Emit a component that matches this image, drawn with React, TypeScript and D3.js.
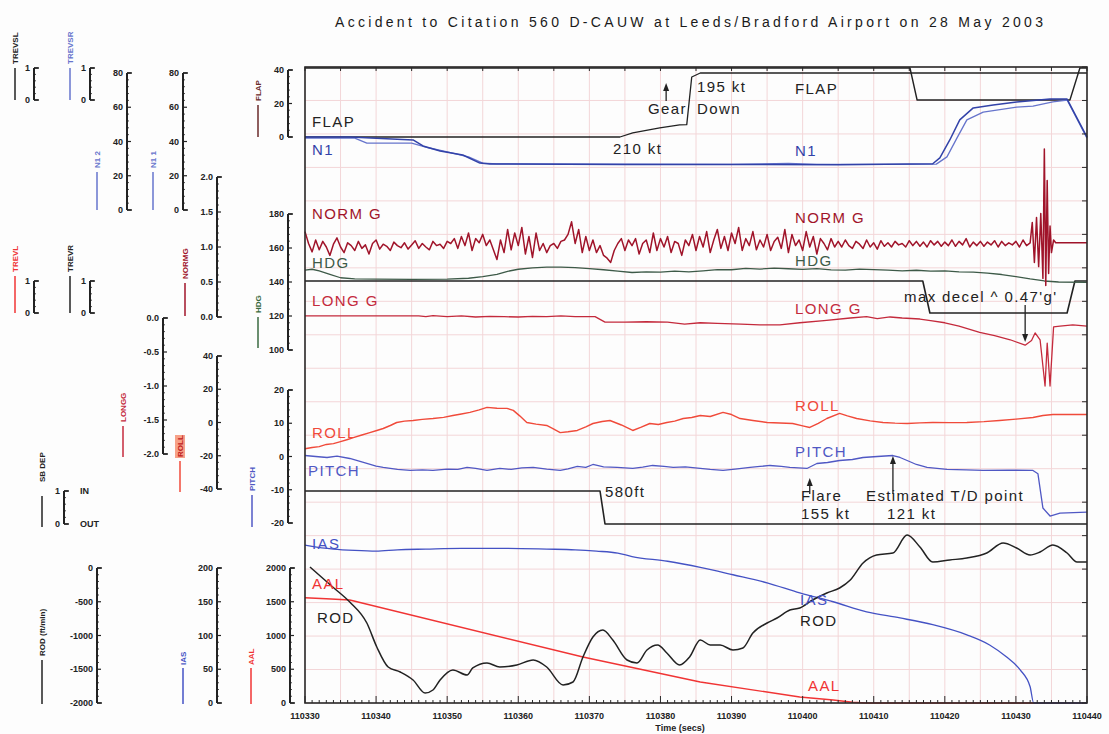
import React from "react";
import * as d3 from "d3";

type Pt = [number, number];

const title = "Accident to Citation 560 D-CAUW at Leeds/Bradford Airport on 28 May 2003";

// ---- tick labels ----
const timeTicks = [110330, 110340, 110350, 110360, 110370, 110380, 110390, 110400, 110410, 110420, 110430, 110440];
const trevTicks = [0, 1];
const n1Ticks = [0, 20, 40, 60, 80];
const flapTicks = [0, 20, 40];
const normGTicks = [0, 0.5, 1, 1.5, 2];
const hdgTicks = [100, 120, 140, 160, 180];
const longGTicks = [-2, -1.5, -1, -0.5, 0];
const rollTicks = [-40, -20, 0, 20, 40];
const pitchTicks = [-20, -10, 0, 10, 20];
const sbTicks = [0, 1];
const rodTicks = [-2000, -1500, -1000, -500, 0];
const iasTicks = [0, 50, 100, 150, 200];
const aalTicks = [0, 500, 1000, 1500, 2000];

// ---- series (time secs, value) ----
const trevsl: Pt[] = [[110330, 1], [110415.1, 1], [110416.1, 0], [110437.6, 0], [110439, 1], [110440, 1]];
const trevr: Pt[] = [[110330, 1], [110416.9, 1], [110417.9, 0], [110437.2, 0], [110438.3, 1], [110440, 1]];
const sbDep: Pt[] = [[110330, 1], [110371.5, 1], [110372.2, 0], [110440, 0]];

const flap: Pt[] = [
  [110330, 0], [110374.3, 0], [110376.1, 2.4], [110379.9, 5.4], [110382.7, 7.2], [110383.7, 7.4],
  [110384.4, 35.8], [110385.6, 38.2], [110440, 38.2],
];

const n1a: Pt[] = [
  [110330, 42.6], [110336.3, 42.6], [110345.2, 40.9], [110346.6, 37.4], [110349, 34.5], [110352.2, 32.1],
  [110354.6, 27.4], [110356, 26.9], [110375, 26.5], [110390, 26.6], [110405, 26.4], [110418.3, 27.0],
  [110419.3, 30.4], [110420.7, 40.9], [110422.1, 52.6], [110424, 59.6], [110426.8, 61.3], [110430.1, 63.1],
  [110434.8, 64.8], [110437.2, 64.8], [110440, 42.6],
];
const n1b: Pt[] = [
  [110330, 42.0], [110337, 42.0], [110338.7, 39.1], [110345, 39.1], [110347.5, 36.2], [110350, 33.9],
  [110353, 31.0], [110355, 27.4], [110357, 26.9], [110390, 26.6], [110398, 27.2], [110402, 26.6],
  [110418.8, 26.8], [110420.3, 31.0], [110421.7, 42.0], [110423.1, 52.6], [110425.4, 57.2], [110430.1, 60.1],
  [110432.4, 60.6], [110435.2, 63.1], [110437.2, 64.2], [110440, 42.0],
];

const normGStart = 110330;
const normGStep = 0.5;
const normG = [
  1.22, 1.05, 0.93, 1.10, 0.96, 1.08, 1.00, 0.88, 1.04, 1.13, // 110330
  1.00, 0.92, 1.06, 1.02, 0.95, 1.08, 0.98, 1.03, 0.90, 1.05, // 110335
  1.10, 0.97, 1.04, 1.01, 0.95, 1.07, 1.02, 0.99, 1.06, 0.97, // 110340
  1.03, 1.09, 0.98, 1.05, 1.00, 0.96, 1.08, 1.02, 1.04, 0.98, // 110345
  1.08, 1.05, 1.12, 0.98, 1.15, 1.02, 1.20, 0.95, 1.12, 1.06, // 110350
  1.18, 1.02, 1.10, 0.96, 0.82, 1.10, 0.92, 1.25, 0.96, 1.20, // 110355
  1.02, 1.28, 0.90, 1.15, 0.85, 1.20, 0.95, 1.05, 0.92, 1.02, // 110360
  1.05, 0.98, 1.08, 1.10, 1.18, 1.36, 1.05, 1.25, 0.92, 1.15, // 110365
  0.95, 1.10, 0.92, 1.02, 0.88, 0.84, 0.78, 0.95, 1.05, 1.12, // 110370
  0.95, 1.10, 1.02, 1.12, 0.90, 1.05, 1.10, 0.92, 1.20, 0.95, // 110375
  1.12, 1.00, 1.15, 0.92, 1.08, 1.05, 0.88, 1.10, 1.02, 1.18, // 110380
  0.95, 1.15, 1.00, 1.22, 0.92, 1.10, 1.25, 0.98, 1.15, 0.95, // 110385
  1.20, 1.05, 1.28, 0.95, 1.12, 1.02, 1.22, 0.96, 1.10, 1.00, // 110390
  1.18, 0.95, 1.08, 1.14, 0.98, 1.25, 0.92, 1.18, 1.02, 1.10, // 110395
  0.95, 1.22, 1.00, 1.15, 0.90, 1.12, 1.05, 0.96, 1.12, 1.00, // 110400
  1.08, 1.00, 1.10, 1.02, 0.98, 1.08, 1.04, 0.98, 1.10, 1.00, // 110405
  1.06, 0.97, 1.09, 1.01, 1.06, 1.00, 1.08, 1.03, 1.05, 1.00, // 110410
  1.09, 1.02, 1.08, 1.01, 1.07, 1.00, 1.09, 1.03, 1.08, 1.01, // 110415
  1.07, 1.02, 1.10, 1.01, 1.08, 1.03, 1.12, 1.00, 1.07, 1.02, // 110420
  1.08, 1.01, 1.07, 1.03, 1.09, 1.00, 1.08, 1.02, 1.06, 1.03, // 110425
  1.08, 1.00, 1.10, 1.02, // 110430
];
const normGTail: Pt[] = [
  [110432, 1.06], [110432.3, 1.35], [110432.6, 0.78], [110432.9, 1.42], [110433.2, 0.72], [110433.5, 1.48],
  [110433.8, 0.55], [110434.0, 2.4], [110434.2, 0.45], [110434.4, 1.95], [110434.6, 0.62], [110434.8, 1.3],
  [110435.0, 0.92], [110435.3, 1.1], [110435.6, 1.06], [110440, 1.06],
];

const hdg: Pt[] = [
  [110330, 147], [110331, 147.5], [110332, 146.5], [110333.5, 144.5], [110335, 142.5], [110337, 141.8],
  [110340, 141.7], [110345, 141.6], [110350, 141.7], [110353, 142.2], [110355, 143.2], [110357, 144.5],
  [110358.5, 146.3], [110360, 147.5], [110362, 148.3], [110364, 148.7], [110366, 148.8], [110368, 148.5],
  [110370, 147.9], [110372, 147.2], [110374, 146.4], [110376, 145.6], [110378, 145.9], [110380, 145.8],
  [110382, 146.4], [110384, 146.0], [110386, 146.6], [110388, 147.3], [110390, 147.2], [110392, 148.0],
  [110394, 147.6], [110396, 148.2], [110398, 147.8], [110400, 147.4], [110402, 147.9], [110404, 147.1],
  [110406, 147.0], [110408, 147.6], [110410, 147.3], [110412, 147.0], [110414, 146.6], [110416, 146.9],
  [110418, 146.4], [110420, 146.5], [110422, 146.0], [110424, 145.8], [110426, 145.2], [110428, 144.4],
  [110430, 143.2], [110432, 141.8], [110434, 140.6], [110436, 140.0], [110440, 139.8],
];

const longG: Pt[] = [
  [110330, 0.03], [110335, 0.03], [110340, 0.03], [110346, 0.03], [110347, 0.02], [110348, 0.035],
  [110350, 0.02], [110352, 0.03], [110354, 0.015], [110356, 0.025], [110358, 0.02], [110360, 0.015],
  [110362, 0.025], [110364, 0.02], [110366, 0.03], [110368, 0.02], [110370.8, 0.02], [110372.2, -0.06],
  [110375, -0.06], [110378, -0.055], [110381, -0.06], [110383.4, -0.09], [110385.6, -0.07], [110388, -0.08],
  [110391.3, -0.09], [110394, -0.1], [110396.8, -0.1], [110399.6, -0.07], [110403, -0.04], [110406.7, 0.0],
  [110409, 0.02], [110410.5, -0.01], [110412.3, 0.015], [110414, 0.0], [110416.5, -0.015], [110418, -0.04],
  [110420, -0.07], [110422, -0.12], [110424.9, -0.21], [110427, -0.26], [110429.2, -0.32], [110431.3, -0.4],
  [110432.2, -0.33], [110432.7, -0.22], [110433.4, -0.32], [110434.1, -1.0], [110434.4, -0.37], [110434.8, -1.0],
  [110435.3, -0.13], [110436.2, -0.12], [110438, -0.1], [110440, -0.12],
];

const roll: Pt[] = [
  [110330, -15.8], [110331, -15], [110332, -14.5], [110333, -13.2], [110334, -12.7], [110335, -11.5],
  [110336, -10.2], [110336.8, -9.1], [110338, -7.5], [110339, -6.2], [110340.1, -4.8], [110341, -3.6],
  [110342, -1.8], [110342.9, 0], [110344, 0.8], [110345.2, 1.2], [110346.5, 1.9], [110348, 2.4],
  [110349.5, 3.1], [110350.8, 4.2], [110352, 5.1], [110353.2, 6.1], [110354.5, 7.6], [110355.6, 9.1],
  [110357, 8.6], [110358.4, 8.5], [110359.3, 7.3], [110360.2, 4.0], [110361.2, 0], [110362.5, -1.0],
  [110364, -1.8], [110365, -4.0], [110365.9, -6.1], [110367, -5.6], [110368.3, -4.8], [110369.5, -2.6],
  [110370.5, -0.6], [110371.8, 0.6], [110372.9, 1.2], [110374.5, -1.5], [110376.1, -4.8], [110377.3, -2.8],
  [110378.5, -0.6], [110379.7, -1.2], [110380.9, 0], [110382, 0.8], [110383.2, 2.4], [110384.4, 3.0],
  [110385.6, 4.2], [110387, 3.6], [110388.8, 6.1], [110390, 4.8], [110391.2, 2.4], [110393, 1.2],
  [110395, 0], [110396.8, -0.3], [110398.6, -0.6], [110400, -2.0], [110401, -3.0], [110402.2, -0.5],
  [110403.4, 2.4], [110405.2, 5.5], [110406.3, 4.0], [110407.6, 2.4], [110409.5, 1.0], [110411.3, 0],
  [110413, -0.4], [110414.7, -0.6], [110416.5, -0.2], [110418.3, 0], [110420.7, -0.1], [110423.1, 0],
  [110425.5, 0.5], [110427.7, 1.2], [110430, 2.0], [110432.4, 3.0], [110433.8, 4.2], [110435.2, 4.8],
  [110440, 4.8],
];

const pitch: Pt[] = [
  [110330, 0.3], [110331.5, 0.0], [110333.1, -0.3], [110334.5, 0.1], [110336.3, -0.6], [110337.5, -1.3],
  [110338.7, -2.1], [110340, -2.9], [110341, -3.3], [110343, -3.9], [110344.8, -4.2], [110346.5, -4.0],
  [110348, -4.2], [110350, -3.8], [110351.5, -3.9], [110352.8, -3.3], [110354, -3.6], [110355.6, -4.2],
  [110357.4, -3.6], [110359, -3.9], [110360.5, -3.4], [110362.1, -3.3], [110364, -3.8], [110365.9, -4.2],
  [110367, -3.7], [110368.3, -3.0], [110369.5, -3.3], [110370.5, -2.4], [110372, -3.1], [110373.9, -3.3],
  [110376.1, -3.6], [110377.5, -3.2], [110378.9, -2.7], [110380.5, -3.0], [110381.8, -3.3], [110383.5, -3.1],
  [110385.6, -3.6], [110387, -3.9], [110388.8, -4.2], [110390.5, -3.8], [110392.6, -3.3], [110394, -3.0],
  [110395.4, -2.7], [110397, -3.0], [110398.2, -3.3], [110400.6, -3.6], [110402, -2.1], [110403.5, -1.8],
  [110405.2, -1.2], [110407, -0.9], [110408.5, -0.3], [110410.5, 0.0], [110412.7, 0.3], [110413.7, -0.3],
  [110414.7, -1.2], [110416, -2.4], [110417.5, -3.3], [110420.3, -3.9], [110423, -4.0], [110425.4, -4.2],
  [110429, -4.1], [110432.4, -4.2], [110433.1, -5.2], [110433.8, -15.5], [110434.8, -17.9], [110436.2, -17],
  [110440, -16.7],
];

const ias: Pt[] = [
  [110330, 234], [110331, 232], [110334, 228], [110337, 226], [110340, 225], [110343, 227], [110347, 228],
  [110352, 229], [110358, 229], [110364, 228], [110368, 227], [110371, 225], [110374, 222], [110376, 217],
  [110381, 210], [110385.6, 201], [110390.2, 190], [110395, 178], [110399.6, 163], [110404.3, 150],
  [110409, 135], [110413.7, 126], [110418.3, 116], [110423.1, 101], [110426.3, 86], [110428.7, 68],
  [110430.6, 49], [110432, 24], [110432.5, 0], [110440, 0],
];

const aal: Pt[] = [
  [110330, 1560], [110333, 1545], [110336.3, 1526], [110369.1, 681], [110385.6, 311], [110399.6, 89],
  [110404.3, 44], [110407, 12], [110409, 0], [110440, 0],
];

const rod: Pt[] = [
  [110330.7, 15], [110333.9, -281], [110336.3, -504], [110338.7, -815], [110340.1, -1170], [110341.7, -1467],
  [110343.4, -1541], [110345.2, -1659], [110346.9, -1852], [110348, -1807], [110349, -1659], [110350.8, -1511],
  [110352.8, -1585], [110353.6, -1481], [110355.6, -1407], [110357.4, -1467], [110359.8, -1437], [110362.1, -1363],
  [110364, -1467], [110366.3, -1733], [110367.7, -1689], [110369.1, -1319], [110370.5, -1022], [110371.9, -919],
  [110373.3, -1067], [110375.3, -1363], [110376.7, -1407], [110378.1, -1215], [110379.6, -1141], [110380.9, -1259],
  [110382.7, -1437], [110384.1, -1319], [110385.6, -1067], [110387, -1141], [110388.4, -1141], [110390.2, -1215],
  [110391.6, -1185], [110393, -963], [110395, -815], [110396.4, -741], [110398.2, -622], [110399.6, -593],
  [110401.4, -474], [110403.4, -370], [110405.2, -296], [110406.7, -178], [110408.5, 74], [110410.4, 193],
  [110412.7, 222], [110414.7, 489], [110416.5, 311], [110418.3, 89], [110420.7, 119], [110423.1, 148],
  [110425.9, 222], [110428.2, 370], [110430.1, 296], [110432, 193], [110433.4, 237], [110435.2, 341],
  [110437.2, 222], [110438.6, 89], [110440, 89],
];

// ---- layout ----
const W = 1109;
const H = 734;
const plot = { left: 305, right: 1087, top: 67, bottom: 703 };
const gridRows = 19;

const C = {
  ink: "#222",
  grid: "#f3d6d8",
  n1: "#3242a8",
  n1b: "#6674cc",
  normG: "#a0142a",
  hdg: "#3d5a48",
  longG: "#c42a3c",
  roll: "#f04a3a",
  pitch: "#5058c4",
  ias: "#4452c4",
  aal: "#f03434",
};

const x = d3.scaleLinear().domain([110330, 110440]).range([plot.left, plot.right]);
const y = {
  trevs: d3.scaleLinear().domain([0, 1]).range([100, 68]),
  n1: d3.scaleLinear().domain([0, 80]).range([210, 73]),
  flap: d3.scaleLinear().domain([0, 40]).range([137, 70]),
  trev: d3.scaleLinear().domain([0, 1]).range([313, 281]),
  normG: d3.scaleLinear().domain([0, 2]).range([317, 177]),
  hdg: d3.scaleLinear().domain([100, 180]).range([350, 214]),
  longG: d3.scaleLinear().domain([-2, 0]).range([454, 318]),
  roll: d3.scaleLinear().domain([-40, 40]).range([489, 356]),
  pitch: d3.scaleLinear().domain([-20, 20]).range([523, 390]),
  sb: d3.scaleLinear().domain([0, 1]).range([524, 491]),
  rod: d3.scaleLinear().domain([-2000, 0]).range([703, 568]),
  ias: d3.scaleLinear().domain([0, 200]).range([703, 568]),
  aal: d3.scaleLinear().domain([0, 2000]).range([703, 568]),
};

const fmtInt = (v: number) => String(v);
const fmt1 = (v: number) => v.toFixed(1);

const axes = [
  { ax: 34, scale: y.trevs, ticks: trevTicks, fmt: fmtInt },
  { ax: 90, scale: y.trevs, ticks: trevTicks, fmt: fmtInt },
  { ax: 127, scale: y.n1, ticks: n1Ticks, fmt: fmtInt },
  { ax: 183, scale: y.n1, ticks: n1Ticks, fmt: fmtInt },
  { ax: 288, scale: y.flap, ticks: flapTicks, fmt: fmtInt },
  { ax: 34, scale: y.trev, ticks: trevTicks, fmt: fmtInt },
  { ax: 90, scale: y.trev, ticks: trevTicks, fmt: fmtInt },
  { ax: 217, scale: y.normG, ticks: normGTicks, fmt: fmt1 },
  { ax: 288, scale: y.hdg, ticks: hdgTicks, fmt: fmtInt },
  { ax: 163, scale: y.longG, ticks: longGTicks, fmt: fmt1 },
  { ax: 217, scale: y.roll, ticks: rollTicks, fmt: fmtInt },
  { ax: 288, scale: y.pitch, ticks: pitchTicks, fmt: fmtInt },
  { ax: 64, scale: y.sb, ticks: sbTicks, fmt: fmtInt },
  { ax: 97, scale: y.rod, ticks: rodTicks, fmt: fmtInt },
  { ax: 217, scale: y.ias, ticks: iasTicks, fmt: fmtInt },
  { ax: 290, scale: y.aal, ticks: aalTicks, fmt: fmtInt },
];

const legends = [
  { label: "TREVSL", color: C.ink, lx: 15, textBottom: 64, lineTop: 68, lineBottom: 100 },
  { label: "TREVSR", color: C.n1b, lx: 70, textBottom: 64, lineTop: 68, lineBottom: 100 },
  { label: "N1 2", color: C.n1b, lx: 97, textBottom: 168, lineTop: 172, lineBottom: 210 },
  { label: "N1 1", color: C.n1b, lx: 153, textBottom: 168, lineTop: 172, lineBottom: 210 },
  { label: "FLAP", color: "#6a2a2a", lx: 258, textBottom: 101, lineTop: 105, lineBottom: 137 },
  { label: "TREVL", color: C.aal, lx: 15, textBottom: 272, lineTop: 276, lineBottom: 313 },
  { label: "TREVR", color: C.ink, lx: 70, textBottom: 272, lineTop: 276, lineBottom: 313 },
  { label: "NORMG", color: C.normG, lx: 185, textBottom: 279, lineTop: 283, lineBottom: 316 },
  { label: "HDG", color: "#3a6a40", lx: 258, textBottom: 313, lineTop: 317, lineBottom: 348 },
  { label: "LONGG", color: C.longG, lx: 123, textBottom: 422, lineTop: 426, lineBottom: 457 },
  { label: "ROLL", color: C.roll, lx: 180, textBottom: 457, lineTop: 461, lineBottom: 492 },
  { label: "PITCH", color: C.pitch, lx: 252, textBottom: 491, lineTop: 495, lineBottom: 527 },
  { label: "SB DEP", color: C.ink, lx: 42, textBottom: 482, lineTop: 496, lineBottom: 527 },
  { label: "ROD (ft/min)", color: C.ink, lx: 42, textBottom: 656, lineTop: 660, lineBottom: 704 },
  { label: "IAS", color: C.ias, lx: 183, textBottom: 665, lineTop: 668, lineBottom: 704 },
  { label: "AAL", color: C.aal, lx: 251, textBottom: 665, lineTop: 668, lineBottom: 704 },
];

const labelFont = "'Liberation Sans', Arial, sans-serif";

const LeftAxis = ({ ax, scale, ticks, fmt }: any) => {
  const [b, t] = scale.range();
  const minors: number[] = [];
  for (let i = 0; i < ticks.length - 1; i++) {
    const a = scale(ticks[i]);
    const c = scale(ticks[i + 1]);
    for (let k = 1; k < 5; k++) minors.push(a + ((c - a) * k) / 5);
  }
  return (
    <g stroke={C.ink}>
      <line x1={ax} x2={ax} y1={b} y2={t} strokeWidth={2} />
      <line x1={ax} x2={ax + 5} y1={b} y2={b} strokeWidth={1.5} />
      <line x1={ax} x2={ax + 5} y1={t} y2={t} strokeWidth={1.5} />
      {ticks.map((v: number) => (
        <line key={v} x1={ax} x2={ax + 4} y1={scale(v)} y2={scale(v)} strokeWidth={1.2} />
      ))}
      {minors.map((m, i) => (
        <line key={i} x1={ax - 1} x2={ax + 2} y1={m} y2={m} strokeWidth={0.8} />
      ))}
      {ticks.map((v: number) => (
        <text
          key={"t" + v}
          x={ax - 4}
          y={scale(v)}
          dy="0.35em"
          textAnchor="end"
          fontSize={9}
          fontWeight="bold"
          fontFamily={labelFont}
          fill={C.ink}
          stroke="none"
        >
          {fmt(v)}
        </text>
      ))}
    </g>
  );
};

const Arrow = ({ ax, tail, tip }: { ax: number; tail: number; tip: number }) => {
  const dir = tip < tail ? 1 : -1;
  return (
    <g>
      <line x1={ax} x2={ax} y1={tail} y2={tip + dir * 6} stroke={C.ink} strokeWidth={1.3} />
      <path d={`M${ax},${tip} L${ax - 3},${tip + dir * 8} L${ax + 3},${tip + dir * 8} Z`} fill={C.ink} />
    </g>
  );
};

export default function App() {
  const mk = (sy: any, curve: any = d3.curveLinear) =>
    d3
      .line<Pt>()
      .x((d) => x(d[0]))
      .y((d) => sy(d[1]))
      .curve(curve);

  const normGPts: Pt[] = normG
    .map((v, i) => [normGStart + i * normGStep, v] as Pt)
    .concat(normGTail);

  const series = [
    { data: trevsl, sy: y.trevs, color: C.ink, w: 1.4 },
    { data: trevr, sy: y.trev, color: C.ink, w: 1.6 },
    { data: sbDep, sy: y.sb, color: C.ink, w: 1.6 },
    { data: flap, sy: y.flap, color: C.ink, w: 1.3 },
    { data: n1b, sy: y.n1, color: C.n1b, w: 1.3 },
    { data: n1a, sy: y.n1, color: C.n1, w: 1.5 },
    { data: hdg, sy: y.hdg, color: C.hdg, w: 1.3 },
    { data: normGPts, sy: y.normG, color: C.normG, w: 1.5 },
    { data: longG, sy: y.longG, color: C.longG, w: 1.3 },
    { data: roll, sy: y.roll, color: C.roll, w: 1.4 },
    { data: pitch, sy: y.pitch, color: C.pitch, w: 1.3 },
    { data: aal, sy: y.aal, color: C.aal, w: 1.4 },
    { data: ias, sy: y.ias, color: C.ias, w: 1.3, curve: d3.curveMonotoneX },
    { data: rod, sy: y.rod, color: C.ink, w: 1.5, curve: d3.curveMonotoneX },
  ];

  const vGrid = d3.range(110330, 110441, 5);
  const hGrid = d3.range(0, gridRows + 1).map((k) =>
    d3.scaleLinear().domain([0, gridRows]).range([plot.bottom, plot.top])(k)
  );
  const secTicks = d3.range(110330, 110441, 1);

  const txt = (s: string, tx: number, ty: number, fill = C.ink, key?: string) => (
    <text
      key={key ?? s + tx}
      x={tx}
      y={ty}
      fontSize={15}
      letterSpacing={1.4}
      fontFamily={labelFont}
      fill={fill}
    >
      {s}
    </text>
  );

  return (
    <div style={{ position: "absolute", left: 0, top: 0 }}>
      <svg width={W} height={H} style={{ display: "block", background: "#fdfdfd" }}>
        <text
          x={335}
          y={27}
          fontSize={14}
          textLength={708}
          lengthAdjust="spacing"
          fontFamily={labelFont}
          fill="#1a1a1a"
        >
          {title}
        </text>

        {/* grid */}
        <g stroke={C.grid} strokeWidth={1}>
          {vGrid.map((t) => (
            <line key={"v" + t} x1={x(t)} x2={x(t)} y1={plot.top} y2={plot.bottom} />
          ))}
          {hGrid.map((gy, i) => (
            <line key={"h" + i} x1={plot.left} x2={plot.right} y1={gy} y2={gy} />
          ))}
        </g>

        {/* series */}
        <g fill="none" strokeLinejoin="round">
          {series.map((s, i) => (
            <path key={i} d={mk(s.sy, s.curve)(s.data) as string} stroke={s.color} strokeWidth={s.w} />
          ))}
        </g>

        {/* frame */}
        <rect
          x={plot.left}
          y={plot.top}
          width={plot.right - plot.left}
          height={plot.bottom - plot.top}
          fill="none"
          stroke="#2a2a2a"
          strokeWidth={1.6}
        />
        <g stroke="#2a2a2a">
          {hGrid.map((gy, i) => (
            <line key={"r" + i} x1={plot.right - 5} x2={plot.right} y1={gy} y2={gy} strokeWidth={1} />
          ))}
          {vGrid.map((t) => (
            <line key={"tt" + t} x1={x(t)} x2={x(t)} y1={plot.top} y2={plot.top + 4} strokeWidth={1} />
          ))}
          {secTicks.map((t) => (
            <line
              key={"s" + t}
              x1={x(t)}
              x2={x(t)}
              y1={plot.bottom}
              y2={plot.bottom - ((t - 110330) % 10 === 0 ? 7 : 3)}
              strokeWidth={1}
            />
          ))}
        </g>
        {timeTicks.map((t) => (
          <text
            key={"xl" + t}
            x={x(t)}
            y={719}
            textAnchor="middle"
            fontSize={9}
            fontWeight="bold"
            fontFamily={labelFont}
            fill={C.ink}
          >
            {t}
          </text>
        ))}
        <text x={680} y={731} textAnchor="middle" fontSize={9} fontWeight="bold" fontFamily={labelFont} fill={C.ink}>
          Time (secs)
        </text>

        {/* left axes */}
        {axes.map((a, i) => (
          <LeftAxis key={i} {...a} />
        ))}
        <text x={80} y={494} fontSize={9} fontWeight="bold" fontFamily={labelFont} fill={C.ink}>IN</text>
        <text x={80} y={527} fontSize={9} fontWeight="bold" fontFamily={labelFont} fill={C.ink}>OUT</text>

        {/* legend labels */}
        {legends.map((l) => (
          <g key={l.label}>
            {l.label === "ROLL" && (
              <rect x={l.lx - 5} y={l.textBottom - 22} width={10} height={23} fill="#f58a6a" opacity={0.8} />
            )}
            <text
              transform={`translate(${l.lx},${l.textBottom}) rotate(-90)`}
              dy="0.35em"
              fontSize={8}
              fontWeight="bold"
              fontFamily={labelFont}
              fill={l.label === "ROLL" ? "#c02020" : l.color}
            >
              {l.label}
            </text>
            <line x1={l.lx} x2={l.lx} y1={l.lineTop} y2={l.lineBottom} stroke={l.color} strokeWidth={1.5} />
          </g>
        ))}

        {/* in-plot labels */}
        {txt("FLAP", 312, 127, C.ink, "flap1")}
        {txt("N1", 312, 155, C.n1, "n11")}
        {txt("210 kt", 613, 154, C.ink)}
        {txt("Gear", 648, 114, C.ink)}
        {txt("Down", 697, 114, C.ink)}
        {txt("195 kt", 697, 92, C.ink)}
        {txt("FLAP", 795, 94, C.ink, "flap2")}
        {txt("N1", 795, 156, C.n1, "n12")}
        {txt("NORM G", 312, 219, C.normG, "ng1")}
        {txt("NORM G", 795, 223, C.normG, "ng2")}
        {txt("HDG", 312, 268, C.hdg, "h1")}
        {txt("HDG", 795, 266, C.hdg, "h2")}
        {txt("LONG G", 312, 306, C.longG, "lg1")}
        {txt("LONG G", 795, 314, C.longG, "lg2")}
        {txt("max decel ^ 0.47'g'", 904, 302, C.ink)}
        {txt("ROLL", 312, 438, C.roll, "r1")}
        {txt("ROLL", 795, 411, C.roll, "r2")}
        {txt("PITCH", 308, 476, C.pitch, "p1")}
        {txt("PITCH", 795, 457, C.pitch, "p2")}
        {txt("580ft", 605, 497, C.ink)}
        {txt("Flare", 801, 501, C.ink)}
        {txt("155 kt", 801, 519, C.ink)}
        {txt("Estimated T/D point", 866, 501, C.ink)}
        {txt("121 kt", 887, 519, C.ink)}
        {txt("IAS", 312, 549, C.ias, "i1")}
        {txt("IAS", 800, 605, C.ias, "i2")}
        {txt("AAL", 312, 589, C.aal, "a1")}
        {txt("AAL", 808, 691, C.aal, "a2")}
        {txt("ROD", 317, 623, C.ink, "rd1")}
        {txt("ROD", 800, 626, C.ink, "rd2")}

        <Arrow ax={x(110380.8)} tail={101} tip={83} />
        <Arrow ax={x(110401)} tail={494} tip={478} />
        <Arrow ax={x(110412.7)} tail={494} tip={456} />
        <Arrow ax={x(110431.3)} tail={305} tip={342} />
      </svg>
    </div>
  );
}
